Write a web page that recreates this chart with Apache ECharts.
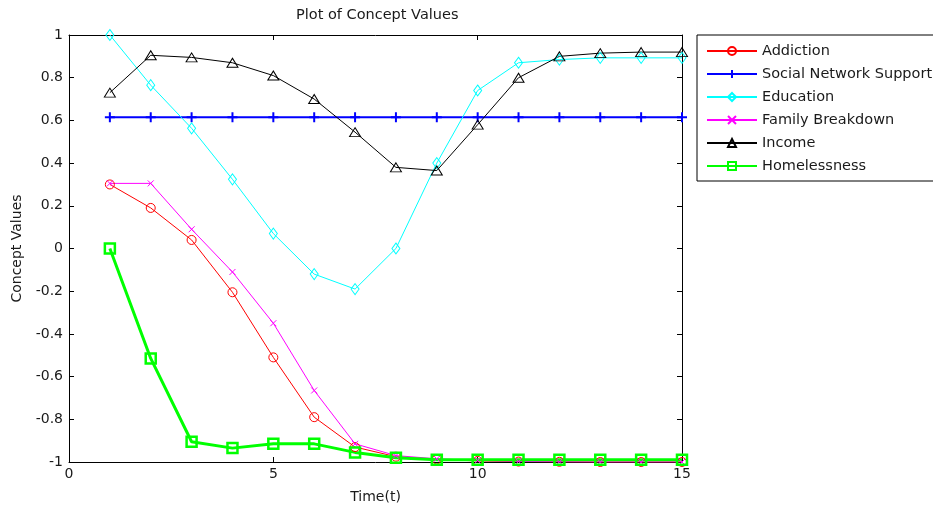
<!DOCTYPE html>
<html><head><meta charset="utf-8">
<script src="https://cdn.jsdelivr.net/npm/echarts@6/dist/echarts.min.js"></script>
<style>html,body{margin:0;padding:0;background:#fff}#c{width:933px;height:506px}</style>
</head><body><div id="c"></div>
<script>
var time = [1,2,3,4,5,6,7,8,9,10,11,12,13,14,15];
var addiction = [0.30,0.19,0.04,-0.205,-0.51,-0.79,-0.93,-0.975,-0.988,-0.995,-0.998,-0.999,-1.0,-1.0,-1.0];
var socialNetwork = [0.615,0.615,0.615,0.615,0.615,0.615,0.615,0.615,0.615,0.615,0.615,0.615,0.615,0.615,0.615];
var education = [1.0,0.765,0.563,0.324,0.07,-0.12,-0.19,0.0,0.40,0.74,0.87,0.885,0.893,0.893,0.893];
var familyBreakdown = [0.305,0.305,0.09,-0.11,-0.35,-0.665,-0.915,-0.97,-0.985,-0.993,-0.997,-0.999,-1.0,-1.0,-1.0];
var income = [0.73,0.905,0.895,0.87,0.81,0.70,0.545,0.38,0.365,0.58,0.80,0.90,0.915,0.92,0.92];
var homelessness = [0.0,-0.515,-0.905,-0.935,-0.915,-0.915,-0.955,-0.98,-0.99,-0.99,-0.99,-0.99,-0.99,-0.99,-0.99];
var seriesNames = ['Addiction','Social Network Support','Education','Family Breakdown','Income','Homelessness'];

function pairs(v){ return time.map(function(t,i){ return [t, v[i]]; }); }
function mk(name, data, color, symbol, size, lw, bw){
  return {
    name: name, type: 'line', data: pairs(data), symbol: symbol, symbolSize: size,
    showAllSymbol: true, animation: false,
    lineStyle: {color: color, width: lw},
    itemStyle: {color: 'rgba(0,0,0,0)', borderColor: color, borderWidth: bw},
    emphasis: {disabled: true}
  };
}
var font = 'DejaVu Sans, sans-serif';
var txt = '#1a1a1a';
var tick = {inside: true, length: 5, lineStyle: {color: '#000'}};
var line = {show: true, onZero: false, lineStyle: {color: '#000', width: 1}};
var chart = echarts.init(document.getElementById('c'));
chart.setOption({
  backgroundColor: '#fff',
  animation: false,
  title: {text: 'Plot of Concept Values', left: 291, top: 3,
    textStyle: {fontFamily: font, fontSize: 14.5, fontWeight: 'normal', color: txt}},
  grid: {left: 69, right: 251, top: 35, bottom: 44, outerBoundsMode: 'none', containLabel: false},
  legend: {
    orient: 'vertical', left: 697, top: 35,
    padding: [8, 30, 7, 9], itemGap: 7, itemWidth: 50, itemHeight: 10,
    borderColor: '#000', borderWidth: 1, backgroundColor: '#fff',
    textStyle: {fontFamily: font, fontSize: 14.5, color: txt, lineHeight: 16},
    data: seriesNames
  },
  xAxis: [{
    type: 'value', min: 0, max: 15, interval: 5,
    name: 'Time(t)', nameLocation: 'middle', nameGap: 28,
    nameTextStyle: {fontFamily: font, fontSize: 14, color: txt},
    axisLine: line, axisTick: tick,
    axisLabel: {fontFamily: font, fontSize: 14, color: txt, margin: 5},
    splitLine: {show: false}
  },{
    type: 'value', position: 'top', min: 0, max: 15, interval: 5,
    axisLine: line, axisTick: tick,
    axisLabel: {show: false}, splitLine: {show: false}
  }],
  yAxis: [{
    type: 'value', min: -1, max: 1, interval: 0.2,
    name: 'Concept Values', nameLocation: 'middle', nameGap: 40, nameRotate: 90,
    nameTextStyle: {fontFamily: font, fontSize: 14, color: txt},
    axisLine: line, axisTick: tick,
    axisLabel: {fontFamily: font, fontSize: 14, color: txt, margin: 6,
      formatter: function(v){ return String(+v.toFixed(1)); }},
    splitLine: {show: false}
  },{
    type: 'value', position: 'right', min: -1, max: 1, interval: 0.2,
    axisLine: line, axisTick: tick,
    axisLabel: {show: false}, splitLine: {show: false}
  }],
  series: [
    mk(seriesNames[0], addiction, '#ff0000', 'circle', 9, 1, 1),
    mk(seriesNames[1], socialNetwork, '#0000ff', 'path://M5,0L5,10M0,5L10,5', 10, 2, 2),
    mk(seriesNames[2], education, '#00ffff', 'path://M4,0L8,6L4,12L0,6Z', [8,11], 1, 1),
    mk(seriesNames[3], familyBreakdown, '#ff00ff', 'path://M0,0L10,10M10,0L0,10', 6, 1, 1),
    mk(seriesNames[4], income, '#000000', 'triangle', [11,9], 1, 1),
    mk(seriesNames[5], homelessness, '#00ff00', 'rect', 10, 3, 2.5)
  ]
});
</script></body></html>
